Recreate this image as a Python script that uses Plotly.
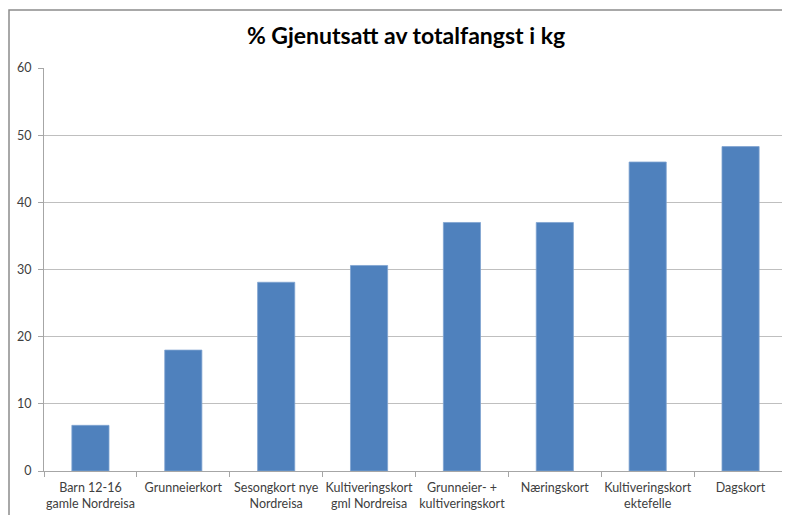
import plotly.graph_objects as go

categories = [
    "Barn 12-16<br>gamle Nordreisa",
    "Grunneierkort",
    "Sesongkort nye<br>Nordreisa",
    "Kultiveringskort<br>gml Nordreisa",
    "Grunneier- +<br>kultiveringskort",
    "Næringskort",
    "Kultiveringskort<br>ektefelle",
    "Dagskort",
]
values = [6.8, 18.0, 28.1, 30.6, 37.0, 37.0, 46.0, 48.3]
y_ticks = [0, 10, 20, 30, 40, 50, 60]
title_text = "% Gjenutsatt av totalfangst i kg"

# page body adds ~8px offset; figure sized to fit window
OFF = 8
W, H = 782, 507
ml, mr, mt, mb = 44 - OFF, 3, 68 - OFF, 44

fig = go.Figure(
    go.Bar(
        x=categories,
        y=values,
        marker=dict(color="#4F81BD", line=dict(color="#7FA3D1", width=0.8)),
        width=0.4,
    )
)

fig.update_layout(
    width=W,
    height=H,
    margin=dict(l=ml, r=mr, t=mt, b=mb, autoexpand=False),
    paper_bgcolor="white",
    plot_bgcolor="white",
    font=dict(family="Lato, 'Open Sans', sans-serif", size=12, color="#404040"),
    title=dict(
        text="<b>" + title_text + "</b>",
        x=(406 - OFF) / W,
        xanchor="center",
        y=1 - (36 - OFF) / H,
        yanchor="middle",
        font=dict(size=23, color="black", family="Lato, 'Open Sans', sans-serif"),
    ),
    showlegend=False,
    bargap=0.6,
)

fig.update_xaxes(
    showgrid=False,
    showline=True,
    linecolor="#A6A6A6",
    linewidth=1,
    ticks="outside",
    tickson="boundaries",
    ticklen=5,
    tickcolor="#A6A6A6",
    tickangle=0,
    automargin=False,
    ticklabelstandoff=5,
    tickfont=dict(size=12.5, color="#404040"),
    range=[-0.5, 7.5],
)

fig.update_yaxes(
    range=[0, 60],
    tickvals=y_ticks,
    showgrid=True,
    gridcolor="#BFBFBF",
    gridwidth=1,
    showline=True,
    linecolor="#A6A6A6",
    linewidth=1,
    ticks="outside",
    ticklen=5,
    tickcolor="#A6A6A6",
    automargin=False,
    tickfont=dict(size=12.5, color="#404040"),
    ticklabelstandoff=4,
    zeroline=False,
)

# chart-area border (top and left edges visible in the reference)
pw = W - ml - mr
ph = H - mt - mb
xl = (1 - ml) / pw
xr = (W + 10 - ml) / pw
yt = 1 + (mt - 2) / ph
yb = -(mb + 10) / ph
fig.add_shape(
    type="path", xref="paper", yref="paper",
    path=f"M {xl} {yb} L {xl} {yt} L {xr} {yt}",
    line=dict(color="#8C8C8C", width=1.5),
    layer="below",
)

fig.write_html("out.html")
